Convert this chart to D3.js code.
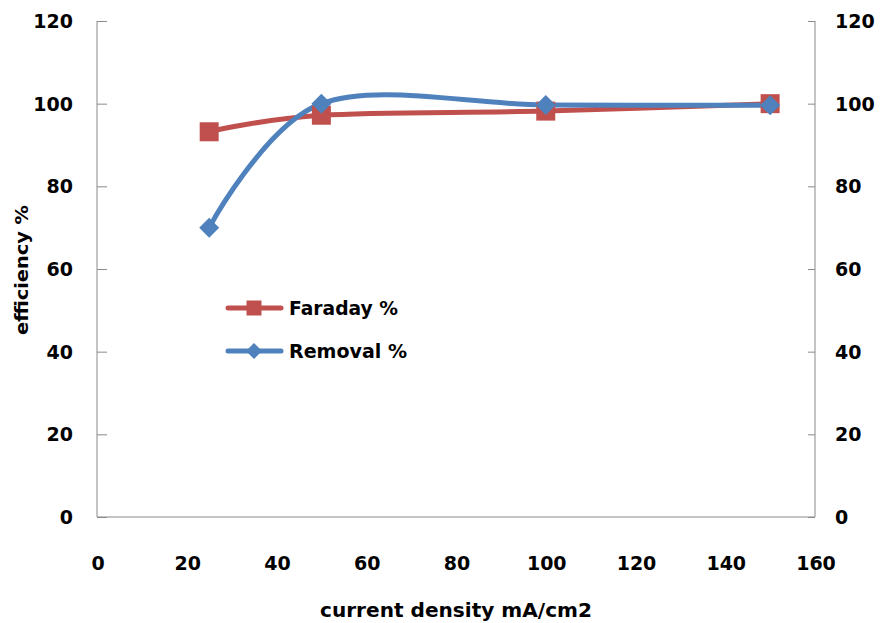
<!DOCTYPE html>
<html>
<head>
<meta charset="utf-8">
<script src="https://cdn.jsdelivr.net/npm/d3@7"></script>
<style>
  html, body { margin: 0; padding: 0; background: #fff; }
  svg { display: block; }
  text { font-family: "DejaVu Sans", sans-serif; font-weight: bold; fill: #000; }
</style>
</head>
<body>
<svg id="chart" width="887" height="623"></svg>
<script>
// Current density (mA/cm2) and efficiencies (%)
const currentDensity = [25, 50, 100, 150];
const faraday = [93.2, 97.2, 98.2, 100.0];
const removal = [70.0, 100.0, 99.7, 99.6];

const xTicks = [0, 20, 40, 60, 80, 100, 120, 140, 160];
const yTicks = [0, 20, 40, 60, 80, 100, 120];

const seriesNames = ["Faraday %", "Removal %"];
const seriesColors = ["#C0504D", "#4F81BD"];

const svg = d3.select("#chart");

const x = d3.scaleLinear().domain([0, 160]).range([97, 815]);
const y = d3.scaleLinear().domain([0, 120]).range([517, 21]);

const axisColor = "#8a8a8a";

// Left axis
const leftAxis = svg.append("g").attr("transform", `translate(${x(0)},0)`)
  .call(d3.axisRight(y).tickValues(yTicks).tickSize(10).tickFormat(""));
leftAxis.select(".domain").attr("stroke", axisColor).attr("d", `M0,${y(120)}V${y(0)}`);
leftAxis.selectAll(".tick line").attr("stroke", axisColor);

// Right axis
const rightAxis = svg.append("g").attr("transform", `translate(${x(160)},0)`)
  .call(d3.axisLeft(y).tickValues(yTicks).tickSize(7).tickFormat(""));
rightAxis.select(".domain").attr("stroke", axisColor).attr("d", `M0,${y(120)}V${y(0)}`);
rightAxis.selectAll(".tick line").attr("stroke", axisColor);

// Bottom axis line (no ticks)
const bottomAxis = svg.append("g").attr("transform", `translate(0,${y(0)})`)
  .call(d3.axisBottom(x).tickValues(xTicks).tickSize(0).tickFormat(""));
bottomAxis.select(".domain").attr("stroke", axisColor).attr("d", `M${x(0)},0H${x(160)}`);

// Tick labels
svg.append("g").selectAll("text").data(yTicks).join("text")
  .attr("x", 73).attr("y", d => y(d)).attr("dy", "0.36em")
  .attr("text-anchor", "end").style("font-size", "19px").text(d => d);
svg.append("g").selectAll("text").data(yTicks).join("text")
  .attr("x", 835).attr("y", d => y(d)).attr("dy", "0.36em")
  .attr("text-anchor", "start").style("font-size", "19px").text(d => d);
svg.append("g").selectAll("text").data(xTicks).join("text")
  .attr("x", d => x(d) + 1).attr("y", 570)
  .attr("text-anchor", "middle").style("font-size", "19px").text(d => d);

// Axis titles
svg.append("text").attr("x", 456).attr("y", 617).attr("text-anchor", "middle")
  .style("font-size", "20px")
  .attr("textLength", 272).attr("lengthAdjust", "spacingAndGlyphs")
  .text("current density mA/cm2");
svg.append("text").attr("transform", "translate(28,270) rotate(-90)")
  .attr("text-anchor", "middle").style("font-size", "17px")
  .attr("textLength", 130).attr("lengthAdjust", "spacingAndGlyphs")
  .text("efficiency %");

// Smoothed series lines
const line = (vals) => d3.line()
  .x((d, i) => x(currentDensity[i]))
  .y(d => y(d))
  .curve(d3.curveCardinal.tension(0))(vals);

const allSeries = [faraday, removal];
allSeries.forEach((vals, k) => {
  svg.append("path").attr("d", line(vals)).attr("fill", "none")
    .attr("stroke", seriesColors[k]).attr("stroke-width", 5)
    .attr("stroke-linejoin", "round").attr("stroke-linecap", "round");
});

// Markers
function diamondPath(r) {
  return `M0,${-r}L${r},0L0,${r}L${-r},0Z`;
}
const square = d3.symbol().type(d3.symbolSquare).size(19 * 19);
svg.append("g").selectAll("path").data(faraday).join("path")
  .attr("transform", (d, i) => `translate(${x(currentDensity[i])},${y(d)})`)
  .attr("d", square()).attr("fill", seriesColors[0]);
svg.append("g").selectAll("path").data(removal).join("path")
  .attr("transform", (d, i) => `translate(${x(currentDensity[i])},${y(d)})`)
  .attr("d", diamondPath(10)).attr("fill", seriesColors[1]);

// Legend
const legendRows = [
  { name: seriesNames[0], color: seriesColors[0], y: 308, w: 109, marker: d3.symbol().type(d3.symbolSquare).size(15 * 15)() },
  { name: seriesNames[1], color: seriesColors[1], y: 351, w: 118, marker: diamondPath(8) }
];
const legend = svg.append("g");
legendRows.forEach(r => {
  legend.append("line").attr("x1", 228).attr("x2", 281).attr("y1", r.y).attr("y2", r.y)
    .attr("stroke", r.color).attr("stroke-width", 5).attr("stroke-linecap", "round");
  legend.append("path").attr("d", r.marker).attr("transform", `translate(254,${r.y})`)
    .attr("fill", r.color);
  legend.append("text").attr("x", 289).attr("y", r.y).attr("dy", "0.36em")
    .style("font-size", "20px")
    .attr("textLength", r.w).attr("lengthAdjust", "spacingAndGlyphs")
    .text(r.name);
});
</script>
</body>
</html>
